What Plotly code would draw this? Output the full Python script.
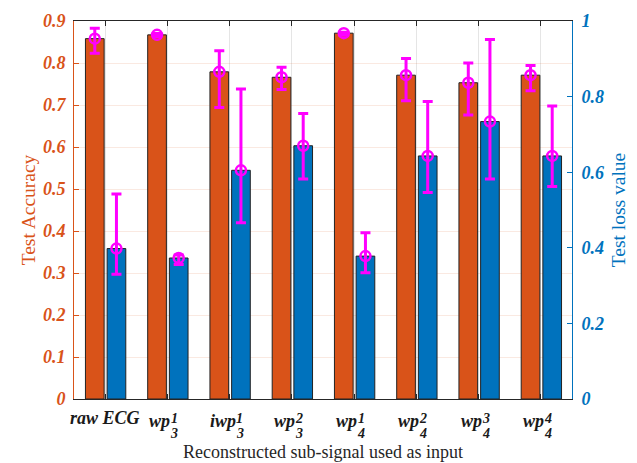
import plotly.graph_objects as go

categories = ["raw ECG", "wp31", "iwp31", "wp32", "wp41", "wp42", "wp43", "wp44"]
label_base = ["raw ECG", "wp", "iwp", "wp", "wp", "wp", "wp", "wp"]
label_sub = ["", "3", "3", "3", "4", "4", "4", "4"]
label_sup = ["", "1", "1", "2", "1", "2", "3", "4"]

acc_mean = [0.858, 0.867, 0.779, 0.766, 0.871, 0.771, 0.753, 0.771]
acc_hi = [0.883, 0.870, 0.829, 0.790, 0.873, 0.811, 0.800, 0.794]
acc_lo = [0.823, 0.863, 0.694, 0.737, 0.866, 0.710, 0.676, 0.734]

loss_mean = [0.398, 0.373, 0.605, 0.670, 0.378, 0.643, 0.734, 0.643]
loss_hi = [0.542, 0.381, 0.820, 0.755, 0.440, 0.787, 0.951, 0.775]
loss_lo = [0.330, 0.356, 0.466, 0.582, 0.334, 0.546, 0.582, 0.562]

ORANGE = "#D95319"
BLUE = "#0072BD"
MAG = "#FF00FF"
FONT = "Liberation Serif"

xs = list(range(1, len(categories) + 1))
BW = 0.30
OFF_A = -0.316
OFF_L = 0.032

fig = go.Figure()
fig.add_trace(go.Bar(x=xs, y=acc_mean, width=BW, offset=OFF_A,
                     marker=dict(color=ORANGE, line=dict(color="#222222", width=1)),
                     yaxis="y", showlegend=False))
fig.add_trace(go.Bar(x=xs, y=loss_mean, width=BW, offset=OFF_L,
                     marker=dict(color=BLUE, line=dict(color="#222222", width=1)),
                     yaxis="y2", showlegend=False))

err_style = dict(type="data", symmetric=False, color=MAG, thickness=3, width=5)
fig.add_trace(go.Scatter(
    x=[x + OFF_A + BW / 2 for x in xs], y=acc_mean, mode="markers", yaxis="y",
    marker=dict(symbol="circle-open", size=10, color=MAG, line=dict(width=2.5, color=MAG)),
    error_y=dict(array=[h - m for h, m in zip(acc_hi, acc_mean)],
                 arrayminus=[m - l for l, m in zip(acc_lo, acc_mean)], **err_style),
    showlegend=False))
fig.add_trace(go.Scatter(
    x=[x + OFF_L + BW / 2 for x in xs], y=loss_mean, mode="markers", yaxis="y2",
    marker=dict(symbol="circle-open", size=10, color=MAG, line=dict(width=2.5, color=MAG)),
    error_y=dict(array=[h - m for h, m in zip(loss_hi, loss_mean)],
                 arrayminus=[m - l for l, m in zip(loss_lo, loss_mean)], **err_style),
    showlegend=False))

tickfont_base = dict(family=FONT, size=18, weight="bold", style="italic")
lab_font = dict(family=FONT, size=18, weight="bold", style="italic", color="#1a1a1a")
scr_font = dict(family=FONT, size=14, weight="bold", style="italic", color="#1a1a1a")

annotations = []
for x, base, sub, sup in zip(xs, label_base, label_sub, label_sup):
    if not sub:
        annotations.append(dict(x=x, y=0, xref="x", yref="paper", text=base, showarrow=False,
                                xanchor="center", yanchor="middle", yshift=-19, font=lab_font))
        continue
    right = 8 if base.startswith("i") else 5
    annotations.append(dict(x=x, y=0, xref="x", yref="paper", text=base, showarrow=False,
                            xanchor="right", yanchor="middle", xshift=right, yshift=-22,
                            font=lab_font))
    annotations.append(dict(x=x, y=0, xref="x", yref="paper", text=sup, showarrow=False,
                            xanchor="center", yanchor="middle", xshift=right + 2, yshift=-19,
                            font=scr_font))
    annotations.append(dict(x=x, y=0, xref="x", yref="paper", text=sub, showarrow=False,
                            xanchor="center", yanchor="middle", xshift=right + 2, yshift=-34,
                            font=scr_font))

fig.update_layout(
    width=637, height=463,
    margin=dict(l=74, r=65, t=21, b=64),
    paper_bgcolor="white", plot_bgcolor="white",
    barmode="overlay",
    annotations=annotations,
    xaxis=dict(
        range=[0.5, 8.5], tickvals=xs, showticklabels=False,
        showline=True, linecolor="#262626", linewidth=1, mirror="ticks",
        ticks="inside", ticklen=5, tickcolor="#262626",
        showgrid=True, gridcolor="rgba(0,0,0,0.10)", gridwidth=1,
        zeroline=False, automargin=False,
        title=dict(text="Reconstructed sub-signal used as input",
                   font=dict(family=FONT, size=18, color="#262626"), standoff=46),
    ),
    yaxis=dict(
        range=[0, 0.9], dtick=0.1, tick0=0,
        tickfont=dict(color=ORANGE, **tickfont_base), ticklabelstandoff=4,
        showline=True, linecolor=ORANGE, linewidth=1,
        ticks="inside", ticklen=5, tickcolor=ORANGE,
        showgrid=True, gridcolor="rgba(217,83,25,0.13)", gridwidth=1,
        zeroline=False, automargin=False,
        title=dict(text="Test Accuracy", font=dict(family=FONT, size=19.5, color=ORANGE), standoff=2),
    ),
    yaxis2=dict(
        range=[0, 1], dtick=0.2, tick0=0, overlaying="y", side="right",
        tickfont=dict(color=BLUE, **tickfont_base), ticklabelstandoff=5,
        showline=True, linecolor=BLUE, linewidth=1,
        ticks="inside", ticklen=5, tickcolor=BLUE,
        showgrid=False, zeroline=False, automargin=False,
        title=dict(text="Test loss value", font=dict(family=FONT, size=19.5, color=BLUE), standoff=8),
    ),
)

fig.write_html("out.html", config={"displayModeBar": False},
               post_script="document.body.style.margin='0';")
